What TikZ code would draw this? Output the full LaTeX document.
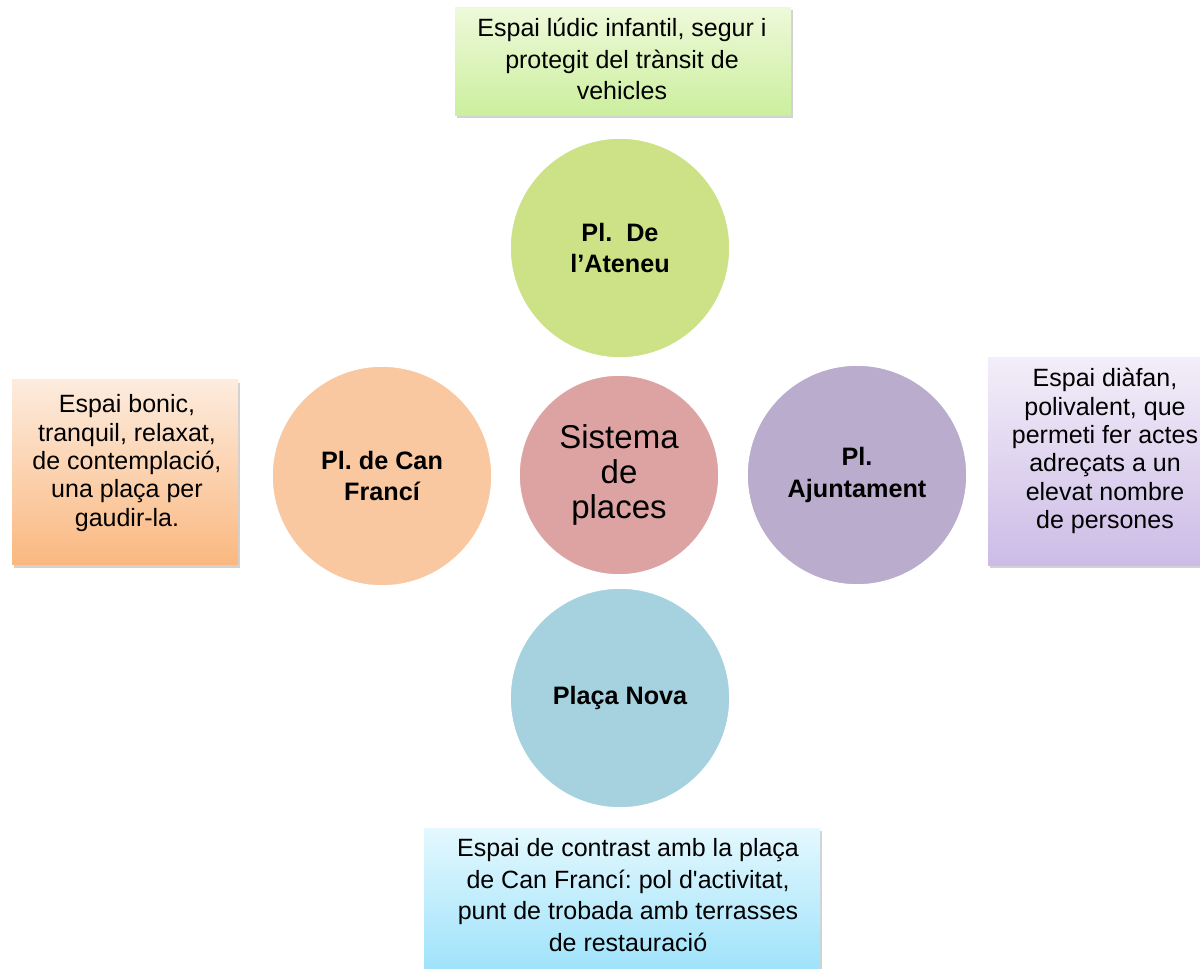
\documentclass[tikz,border=0pt]{standalone}
\usepackage{fontspec}
\setmainfont{Liberation Sans}
\usetikzlibrary{shadows}
\frenchspacing

% circle fills
\definecolor{ateneuC}{RGB}{205,226,134}
\definecolor{canfranciC}{RGB}{249,200,160}
\definecolor{sistemaC}{RGB}{221,163,163}
\definecolor{ajuntC}{RGB}{186,172,204}
\definecolor{novaC}{RGB}{166,210,224}
% box gradients
\definecolor{ateneuTop}{RGB}{238,249,218}
\definecolor{ateneuBot}{RGB}{204,239,158}
\definecolor{canfranciTop}{RGB}{253,236,222}
\definecolor{canfranciBot}{RGB}{250,184,128}
\definecolor{ajuntTop}{RGB}{243,238,249}
\definecolor{ajuntBot}{RGB}{204,188,230}
\definecolor{novaTop}{RGB}{228,248,254}
\definecolor{novaBot}{RGB}{150,224,250}

\begin{document}
\begin{tikzpicture}[x=0.5pt,y=-0.5pt,
    placa/.style={circle, draw=white, line width=0.8pt, inner sep=0pt,
        minimum size=110pt, align=center,
        font=\fontsize{12.6}{15.8}\selectfont\bfseries},
    descbox/.style={rectangle, inner sep=0pt,
        drop shadow={shadow xshift=1.2pt, shadow yshift=-1.5pt,
            opacity=0.35}},
    desctext/.style={inner sep=0pt, align=center,
        font=\fontsize{12.5}{15.8}\selectfont},
    sidetext/.style={desctext, font=\fontsize{12.5}{14.2}\selectfont}
]

\useasboundingbox[fill=white] (0,0) rectangle (1200,969);

% Central circle
\node[placa, fill=sistemaC, minimum size=100pt,
      font=\fontsize{16.5}{17.5}\selectfont] (sistema) at (619,475)
      {Sistema\\de\\places};

% Four squares
\node[placa, fill=ateneuC] (ateneu) at (620,248) {Pl.\ \ De\\l’Ateneu};
\node[placa, fill=canfranciC] (canfranci) at (382,476) {Pl. de Can\\Francí};
\node[placa, fill=ajuntC] (ajunt) at (857,475) {Pl.\\Ajuntament};
\node[placa, fill=novaC] (nova) at (620,698) {Plaça Nova};

% Description boxes
\node[descbox, top color=ateneuTop, bottom color=ateneuBot,
      minimum width=168pt, minimum height=54pt] (ateneu-box) at (623,61) {};
\node[desctext] (ateneu-txt) at (622,59)
      {Espai lúdic infantil, segur i\\protegit del trànsit de\\vehicles};

\node[descbox, top color=canfranciTop, bottom color=canfranciBot,
      minimum width=113pt, minimum height=92.5pt] (canfranci-box) at (125,472) {};
\node[sidetext] (canfranci-txt) at (127,463)
      {Espai bonic,\\tranquil, relaxat,\\de contemplació,\\una plaça per\\gaudir-la.};

\node[descbox, top color=ajuntTop, bottom color=ajuntBot,
      minimum width=117pt, minimum height=104pt] (ajunt-box) at (1105,461) {};
\node[sidetext] (ajunt-txt) at (1105,451)
      {Espai diàfan,\\polivalent, que\\permeti fer actes\\adreçats a un\\elevat nombre\\de persones};

\node[descbox, top color=novaTop, bottom color=novaBot,
      minimum width=198pt, minimum height=80pt] (nova-box) at (622,908) {};
\node[desctext] (nova-txt) at (628,895)
      {Espai de contrast amb la plaça\\de Can Francí: pol d\textquotesingle activitat,\\punt de trobada amb terrasses\\de restauració};

\end{tikzpicture}
\end{document}
